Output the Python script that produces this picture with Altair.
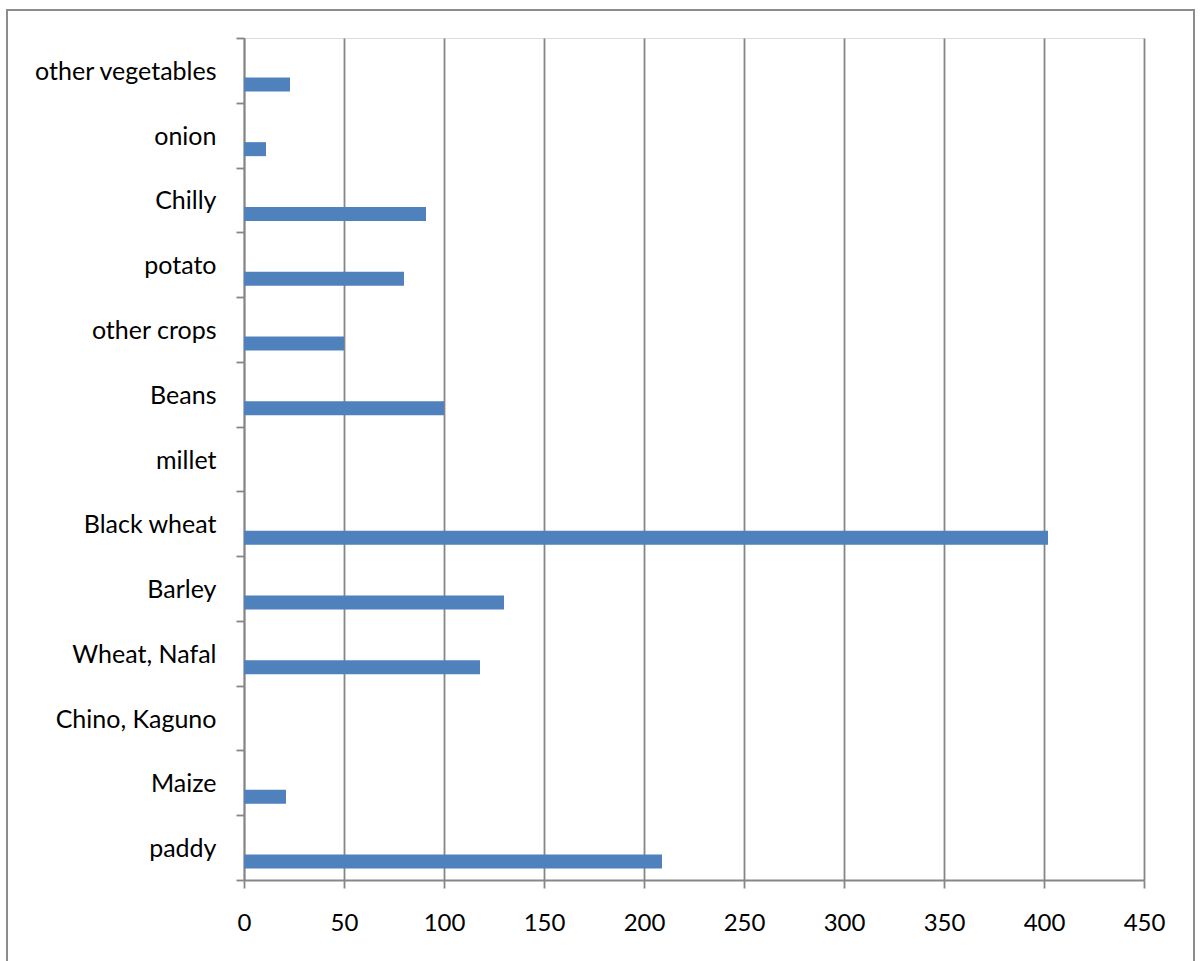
import altair as alt
import pandas as pd

# Crops listed top to bottom, with the reported quantity for each
crops = [
    "other vegetables", "onion", "Chilly", "potato", "other crops\u00a0",
    "Beans", "millet", "Black wheat", "Barley", "Wheat, Nafal",
    "Chino, Kaguno", "Maize", "paddy",
]
values = [23, 11, 91, 80, 50, 100, 0, 402, 130, 118, 0, 21, 209]
x_ticks = [0, 50, 100, 150, 200, 250, 300, 350, 400, 450]

df = pd.DataFrame({"crop": crops, "value": values})

GRID = "#868686"
BAR = "#4f81bd"
FONT = "Lato"
LINE_W = 1.8

bars = alt.Chart(df).mark_bar(
    color=BAR, height=14, yOffset=14
).encode(
    x=alt.X(
        "value:Q",
        scale=alt.Scale(domain=[0, 450], nice=False, zero=True),
        axis=alt.Axis(
            values=x_ticks, title=None, grid=True, gridColor=GRID, gridWidth=LINE_W,
            domainColor=GRID, domainWidth=LINE_W, tickColor=GRID, tickWidth=LINE_W,
            tickSize=8, labelFontSize=24, labelFont=FONT, labelColor="black",
            labelBaseline="middle", labelPadding=35, labelFlush=False,
            labelOverlap=False,
        ),
    ),
    y=alt.Y(
        "crop:N", sort=crops,
        scale=alt.Scale(paddingInner=0, paddingOuter=0),
        axis=alt.Axis(
            title=None, tickBand="extent", tickSize=8, tickColor=GRID, tickWidth=LINE_W,
            domainColor=GRID, domainWidth=LINE_W, labelFontSize=25, labelFont=FONT,
            labelColor="black", labelPadding=20, labelLimit=400, labelOffset=1,
        ),
    ),
)

# Outer chart-area frame
frame = alt.Chart(alt.Data(values=[{"f": 1}])).mark_rect(
    fill=None, stroke="#8c8c8c", strokeWidth=2
).encode(
    x=alt.value(-237), x2=alt.value(950),
    y=alt.value(-28), y2=alt.value(930),
)

chart = alt.layer(frame, bars).properties(
    width=900, height=842,
    autosize=alt.AutoSizeParams(type="none"),
    padding={"left": 244, "top": 38, "right": 57, "bottom": 81},
).configure_view(stroke=None).configure(background="white")

chart.save("out.html", embed_options={"renderer": "svg", "actions": False})
